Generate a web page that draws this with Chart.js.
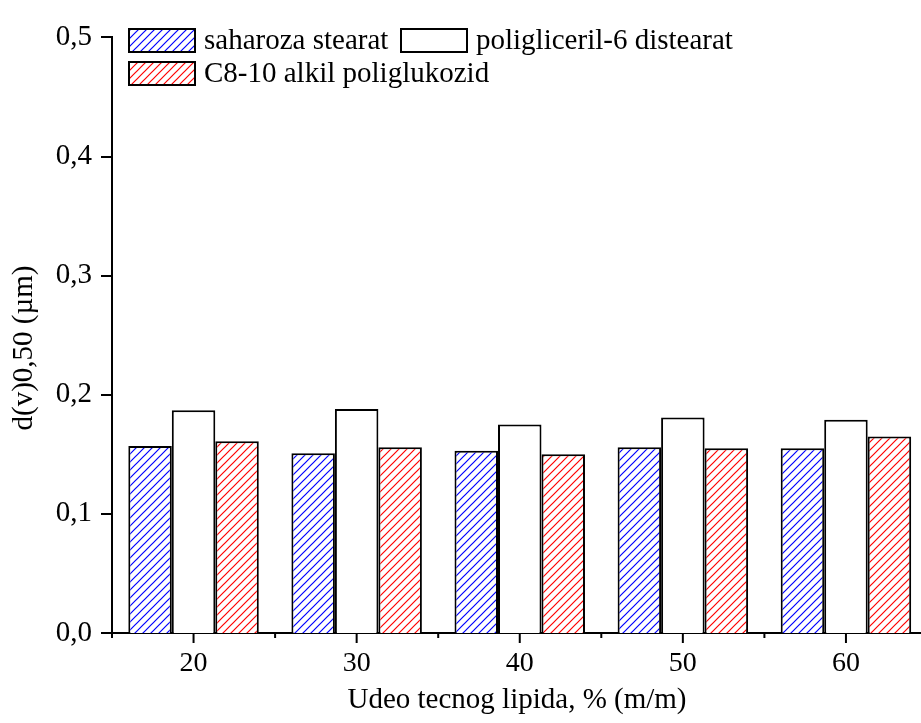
<!DOCTYPE html>
<html>
<head>
<meta charset="utf-8">
<script src="https://cdn.jsdelivr.net/npm/chart.js@4.4.0/dist/chart.umd.min.js"></script>
<style>
  html, body { margin: 0; padding: 0; overflow: hidden; background: #fff; }
  canvas { display: block; }
</style>
</head>
<body>
<canvas id="grafico" width="935" height="723"></canvas>
<script>
// podaci ocitani sa grafika
const kategorije = ["20", "30", "40", "50", "60"];
const saharozaStearat = [0.157, 0.151, 0.153, 0.156, 0.155];
const poligliceril6 = [0.187, 0.188, 0.175, 0.181, 0.179];
const alkilPoliglukozid = [0.161, 0.156, 0.150, 0.155, 0.165];
const nazivi = ["saharoza stearat", "poligliceril-6 distearat", "C8-10 alkil poliglukozid"];
const yOsa = { min: 0, max: 0.5, korak: 0.1 };
const naslovX = "Udeo tecnog lipida, % (m/m)";
const naslovY = "d(v)0,50 (\u00b5m)";

const FONT = "'Liberation Serif', 'Times New Roman', serif";

const ctx = document.getElementById("grafico").getContext("2d");

// srafura "/" za stubice
function srafura(boja) {
  const c = document.createElement("canvas");
  const s = 8;
  c.width = s;
  c.height = s;
  const g = c.getContext("2d");
  g.fillStyle = "rgb(255,255,255)";
  g.fillRect(0, 0, s, s);
  g.strokeStyle = boja;
  g.lineWidth = 1.2;
  g.beginPath();
  g.moveTo(-1, s + 1);
  g.lineTo(s + 1, -1);
  g.moveTo(-1, 1);
  g.lineTo(1, -1);
  g.moveTo(s - 1, s + 1);
  g.lineTo(s + 1, s - 1);
  g.stroke();
  return ctx.createPattern(c, "repeat");
}

// legenda, crtice i naslovi osa
const dodaci = {
  id: "dodaci",
  afterDraw(chart) {
    const c = chart.ctx;
    const x = chart.scales.x;
    const y = chart.scales.y;
    const area = chart.chartArea;
    c.save();
    c.strokeStyle = "#000";
    c.lineWidth = 2;

    // crtice na y osi
    y.ticks.forEach((t) => {
      const py = Math.round(y.getPixelForValue(t.value));
      c.beginPath();
      c.moveTo(area.left - 11, py);
      c.lineTo(area.left, py);
      c.stroke();
    });

    // crtice na x osi (glavne i sporedne)
    const sirina = x.getPixelForValue(1) - x.getPixelForValue(0);
    for (let i = 0; i < kategorije.length; i++) {
      const px = x.getPixelForValue(i);
      c.beginPath();
      c.moveTo(px, area.bottom);
      c.lineTo(px, area.bottom + 10);
      c.stroke();
      const pm = px - sirina / 2;
      c.beginPath();
      c.moveTo(pm, area.bottom);
      c.lineTo(pm, area.bottom + 5);
      c.stroke();
    }

    // naslovi osa
    c.fillStyle = "#000";
    c.font = "29px " + FONT;
    c.textAlign = "center";
    c.textBaseline = "middle";
    c.fillText(naslovX, 517, 700);
    c.save();
    c.translate(24, 348);
    c.rotate(-Math.PI / 2);
    c.fillText(naslovY, 0, 0);
    c.restore();

    // legenda
    const polja = [
      { x: 129, y: 29 },
      { x: 401, y: 29 },
      { x: 129, y: 62 },
    ];
    c.textAlign = "left";
    chart.data.datasets.forEach((ds, i) => {
      const p = polja[i];
      c.fillStyle = ds.backgroundColor;
      c.fillRect(p.x, p.y, 66, 23);
      c.lineWidth = 2;
      c.strokeStyle = "#000";
      c.strokeRect(p.x, p.y, 66, 23);
      c.fillStyle = "#000";
      c.fillText(ds.label, p.x + 75, p.y + 12);
    });
    c.restore();
  },
};

new Chart(ctx, {
  type: "bar",
  data: {
    labels: kategorije,
    datasets: [
      {
        label: nazivi[0],
        data: saharozaStearat,
        backgroundColor: srafura("rgb(0,0,255)"),
        borderColor: "#000",
        borderWidth: 2,
      },
      {
        label: nazivi[1],
        data: poligliceril6,
        backgroundColor: "#fff",
        borderColor: "#000",
        borderWidth: 2,
      },
      {
        label: nazivi[2],
        data: alkilPoliglukozid,
        backgroundColor: srafura("rgb(255,0,0)"),
        borderColor: "#000",
        borderWidth: 2,
      },
    ],
  },
  options: {
    responsive: false,
    animation: false,
    layout: {
      padding: { top: 25, right: 7.5, left: 0, bottom: 0 },
    },
    plugins: {
      legend: { display: false },
      tooltip: { enabled: false },
    },
    datasets: {
      bar: { categoryPercentage: 0.8, barPercentage: 1.0 },
    },
    scales: {
      x: {
        grid: { display: false, drawTicks: false },
        border: { display: true, color: "#000", width: 2 },
        ticks: {
          color: "#000",
          font: { family: FONT, size: 28 },
          padding: 14,
          maxRotation: 0,
        },
        afterFit: (s) => { s.height = 90; },
      },
      y: {
        min: yOsa.min,
        max: yOsa.max,
        grid: { display: false, drawTicks: false },
        border: { display: true, color: "#000", width: 2 },
        ticks: {
          stepSize: yOsa.korak,
          color: "#000",
          font: { family: FONT, size: 29 },
          padding: 20,
          callback: (v) => v.toFixed(1).replace(".", ","),
        },
        afterFit: (s) => { s.width = 112; },
      },
    },
  },
  plugins: [dodaci],
});
</script>
</body>
</html>
